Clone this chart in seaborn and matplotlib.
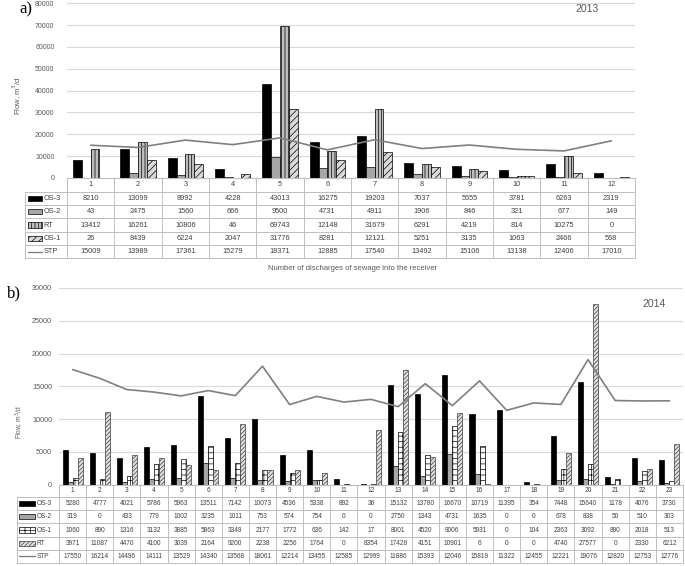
import numpy as np
import pandas as pd
import matplotlib
matplotlib.use("Agg")
import matplotlib.pyplot as plt
import seaborn as sns
from matplotlib.transforms import blended_transform_factory
from matplotlib.patches import Rectangle
from matplotlib.lines import Line2D

# ---------------- data ----------------
cats_2013 = [str(i) for i in range(1, 13)]
os3_2013 = [8210, 13099, 8992, 4228, 43013, 16275, 19203, 7037, 5655, 3781, 6263, 2319]
os2_2013 = [43, 2475, 1560, 666, 9500, 4731, 4911, 1906, 846, 321, 677, 149]
rt_2013 = [13412, 16261, 10806, 46, 69743, 12148, 31679, 6291, 4219, 814, 10275, 0]
os1_2013 = [26, 8439, 6224, 2047, 31776, 8281, 12121, 5251, 3135, 1063, 2466, 568]
stp_2013 = [15009, 13989, 17361, 15279, 18371, 12885, 17540, 13492, 15106, 13138, 12406, 17010]

cats_2014 = [str(i) for i in range(1, 24)]
os3_2014 = [5280, 4777, 4021, 5786, 5963, 13511, 7142, 10073, 4536, 5338, 892, 36,
            15132, 13780, 16670, 10719, 11395, 354, 7448, 15640, 1178, 4076, 3730]
os2_2014 = [319, 0, 433, 779, 1002, 3235, 1011, 753, 574, 754, 0, 0,
            2750, 1343, 4731, 1635, 0, 0, 678, 838, 50, 510, 303]
os1_2014 = [1060, 890, 1316, 3132, 3885, 5863, 3349, 2177, 1772, 636, 142, 17,
            8001, 4520, 9006, 5931, 0, 104, 2363, 3092, 890, 2018, 513]
rt_2014 = [3971, 11087, 4470, 4100, 3039, 2164, 9200, 2238, 2256, 1764, 0, 8354,
           17428, 4151, 10901, 6, 0, 0, 4740, 27577, 0, 2330, 6212]
stp_2014 = [17550, 16214, 14496, 14111, 13529, 14340, 13568, 18061, 12214, 13455, 12585, 12999,
            11886, 15393, 12046, 15819, 11322, 12455, 12221, 19076, 12820, 12753, 12776]

# ---------------- style ----------------
W, H = 685, 566
sns.set_theme(style="white")
plt.rcParams["font.family"] = ["Liberation Sans", "DejaVu Sans"]
plt.rcParams["hatch.linewidth"] = 0.5

fig = plt.figure(figsize=(W / 100, H / 100), dpi=100)
fig.patch.set_facecolor("white")

TXT = "#404040"
TICK = "#595959"
LINE = "#bfbfbf"
STP_C = "#808080"


def fx(px):
    return px / W


def fy(py):
    return 1 - py / H


def style_patch(p, st):
    p.set_hatch(st["hatch"])
    p.set_edgecolor(st.get("ec", "black"))
    if st.get("hc") and hasattr(p, "set_hatchcolor"):
        p.set_hatchcolor(st["hc"])


def panel(cats, names, values, styles, stp, geo, ymax, ystep, year, tick_fs, tbl_fs, ylab_fs):
    l, r, t, b = geo["left"], geo["right"], geo["top"], geo["bottom"]
    ax = fig.add_axes([fx(l), fy(b), fx(r) - fx(l), fy(t) - fy(b)])
    n = len(cats)
    df = pd.concat([pd.DataFrame({"cat": cats, "series": nm, "value": v})
                    for nm, v in zip(names, values)], ignore_index=True)
    sns.barplot(data=df, x="cat", y="value", hue="series", order=cats, hue_order=names,
                palette=[s["fc"] for s in styles], width=0.74, saturation=1,
                edgecolor="black", linewidth=0.5, errorbar=None, legend=False, ax=ax)
    for cont, st in zip(ax.containers, styles):
        for bar in cont:
            style_patch(bar, st)
    sns.lineplot(x=np.arange(n), y=stp, color=STP_C, linewidth=1.2, ax=ax)
    ax.set_xlim(-0.5, n - 0.5)
    ax.set_ylim(0, ymax)
    ax.set_yticks(np.arange(0, ymax + 1, ystep))
    ax.set_yticklabels([str(v) for v in np.arange(0, ymax + 1, ystep)])
    ax.tick_params(axis="y", length=0, labelsize=tick_fs, labelcolor=TICK, pad=geo["pad"])
    ax.set_xticks([])
    ax.set_xlabel("")
    ax.set_ylabel("")
    ax.grid(axis="y", color="#d9d9d9", linewidth=0.8)
    ax.set_axisbelow(True)
    for s in ["top", "right", "left"]:
        ax.spines[s].set_visible(False)
    ax.spines["bottom"].set_color(LINE)
    ax.spines["bottom"].set_linewidth(0.8)

    # ---- data table ----
    bt = blended_transform_factory(ax.transData, fig.transFigure)
    ft = fig.transFigure
    hdr_b = geo["hdr_b"]
    rh = geo["row_h"]
    nrows = len(names) + 1
    tb = hdr_b + rh * nrows
    x0 = geo["x0"]
    lw = 0.7
    for k in range(nrows + 1):
        yy = fy(hdr_b + rh * k)
        fig.add_artist(Line2D([fx(x0), fx(l)], [yy, yy], transform=ft, color=LINE, lw=lw))
        fig.add_artist(Line2D([-0.5, n - 0.5], [yy, yy], transform=bt, color=LINE, lw=lw))
    fig.add_artist(Line2D([fx(x0), fx(x0)], [fy(hdr_b), fy(tb)], transform=ft, color=LINE, lw=lw))
    for i in range(n + 1):
        fig.add_artist(Line2D([i - 0.5, i - 0.5], [fy(b), fy(tb)], transform=bt, color=LINE, lw=lw))
    for i, c in enumerate(cats):
        ax.text(i, fy((b + hdr_b) / 2), c, transform=bt, ha="center", va="center",
                fontsize=tbl_fs, color=TXT, clip_on=False)
    row_names = names + ["STP"]
    row_vals = values + [stp]
    for k, (nm, vals) in enumerate(zip(row_names, row_vals)):
        yc = hdr_b + rh * (k + 0.5)
        for i, v in enumerate(vals):
            ax.text(i, fy(yc), str(v), transform=bt, ha="center", va="center",
                    fontsize=tbl_fs, color=TXT, clip_on=False)
        sx0, sx1 = geo["sw"]
        if nm == "STP":
            fig.add_artist(Line2D([fx(sx0), fx(sx1)], [fy(yc), fy(yc)], transform=ft,
                                  color=STP_C, lw=1.0))
        else:
            st = styles[k]
            rect = Rectangle((fx(sx0), fy(yc + 2.6)), fx(sx1) - fx(sx0), 5.2 / H,
                             transform=ft, facecolor=st["fc"], linewidth=0.5)
            style_patch(rect, st)
            fig.add_artist(rect)
        fig.text(fx(sx1 + 1.5), fy(yc), nm, ha="left", va="center", fontsize=tbl_fs, color=TXT)

    fig.text(fx(geo["year_x"]), fy(geo["year_y"]), year, ha="center", va="center",
             fontsize=7.5, color=TICK)
    fig.text(fx(geo["ylab_x"]), fy(geo["ylab_y"]), "Flow, m$^3$/d", rotation=90,
             ha="center", va="center", fontsize=ylab_fs, color=TICK)
    fig.text(fx(geo["tag_x"]), fy(geo["tag_y"]), geo["tag"], ha="center", va="center",
             fontsize=12, color="black", family=["Liberation Serif", "DejaVu Serif"])
    return ax


styles_2013 = [
    {"fc": "black", "hatch": ""},
    {"fc": "#a6a6a6", "hatch": ""},
    {"fc": "#bfbfbf", "hatch": "|||||"},
    {"fc": "#d9d9d9", "hatch": "/////"},
]
styles_2014 = [
    {"fc": "black", "hatch": ""},
    {"fc": "#a6a6a6", "hatch": ""},
    {"fc": "white", "hatch": "+++"},
    {"fc": "#e0e0e0", "hatch": "////////", "ec": "#404040", "hc": "#8c8c8c"},
]

geo_a = dict(left=67, right=635, top=3.3, bottom=178, hdr_b=191.7, row_h=13.35, x0=25,
             sw=(28, 42), pad=9, year_x=587, year_y=9, ylab_x=17, ylab_y=96,
             tag_x=26, tag_y=9, tag="a)")
geo_b = dict(left=59, right=683, top=288, bottom=484.5, hdr_b=497, row_h=13.2, x0=17,
             sw=(19, 35), pad=5, year_x=654, year_y=304, ylab_x=20, ylab_y=422,
             tag_x=14, tag_y=293, tag="b)")

panel(cats_2013, ["OS-3", "OS-2", "RT", "OS-1"], [os3_2013, os2_2013, rt_2013, os1_2013],
      styles_2013, stp_2013, geo_a, 80000, 10000, "2013", 5.0, 5.3, 5.5)
panel(cats_2014, ["OS-3", "OS-2", "OS-1", "RT"], [os3_2014, os2_2014, os1_2014, rt_2014],
      styles_2014, stp_2014, geo_b, 30000, 5000, "2014", 5.2, 4.7, 4.8)

fig.text(fx(352), fy(269), "Number of discharges of sewage into the receiver",
         ha="center", va="center", fontsize=5.5, color=TICK)

fig.savefig("out.png", dpi=100, facecolor="white")
